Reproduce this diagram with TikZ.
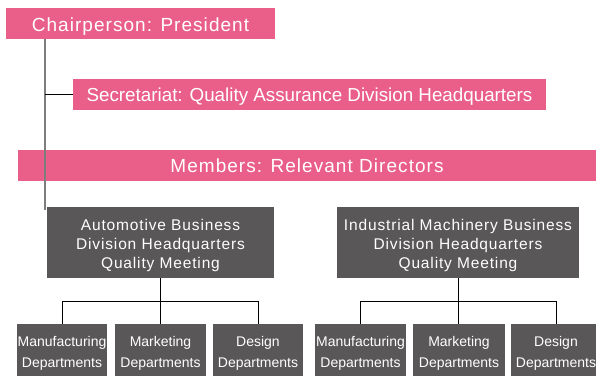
\documentclass[tikz,border=0pt]{standalone}
\usepackage{fontspec}
\setmainfont{Liberation Sans}
\newfontfamily\trackfont[LetterSpace=5.5]{Liberation Sans}
\definecolor{pinkc}{RGB}{233,95,137}
\definecolor{grayc}{RGB}{89,87,87}
\definecolor{trunkc}{RGB}{125,125,125}
\newcommand\toprule[1]{\rule{0pt}{#1}}
\begin{document}
\begin{tikzpicture}[x=1pt,y=-1pt,
  pinkbox/.style={fill=pinkc,text=white,inner sep=0pt,align=center,
    text height=13.5pt,text depth=0pt},
  graybox/.style={fill=grayc,text=white,inner sep=0pt,align=center},
  deptbox/.style={graybox,minimum width=90pt,minimum height=52pt,
    font=\fontsize{14}{21}\selectfont},
  meetbox/.style={graybox,minimum height=71pt,
    font=\trackfont\fontsize{15.5}{18.7}\selectfont},
  link/.style={draw=black,line width=1pt},
  trunk/.style={draw=trunkc,line width=1.6pt}]
\clip (0,0) rectangle (596,376);
\fill[white] (0,0) rectangle (596,376);
% top boxes
\node[pinkbox,minimum width=269pt,minimum height=31pt,text height=15.5pt,
  font=\trackfont\fontsize{19}{22}\selectfont] (chair) at (140.5,23.5) {Chairperson: President};
\node[pinkbox,minimum width=473pt,minimum height=31pt,
  font=\fontsize{18.8}{22}\selectfont] (secr) at (309.5,94.5) {Secretariat: Quality Assurance Division Headquarters};
\node[pinkbox,minimum width=578pt,minimum height=31pt,
  font=\trackfont\fontsize{19}{22}\selectfont] (memb) at (307,165.5) {Members: Relevant Directors};
% meetings
\node[meetbox,minimum width=227pt] (auto) at (160.5,242.5) {\toprule{17.4pt}Automotive Business\\Division Headquarters\\Quality Meeting};
\node[meetbox,minimum width=242pt] (indu) at (458,242.5) {\toprule{17.4pt}Industrial Machinery Business\\Division Headquarters\\Quality Meeting};
% departments
\node[deptbox] (lm) at (62,350) {\toprule{16.3pt}Manufacturing\\Departments};
\node[deptbox,minimum width=91pt] (lk) at (160.5,350) {\toprule{16.3pt}Marketing\\Departments};
\node[deptbox] (ld) at (258,350) {\toprule{16.3pt}Design\\Departments};
\node[deptbox,minimum width=91pt] (rm) at (360.5,350) {\toprule{16.3pt}Manufacturing\\Departments};
\node[deptbox,minimum width=92pt] (rk) at (459,350) {\toprule{16.3pt}Marketing\\Departments};
\node[deptbox] (rd) at (556,350) {\toprule{16.3pt}Design\\Departments};
% trunk
\coordinate (trunkend) at (45,210);
\draw[trunk] (chair.south -| trunkend) -- (trunkend);
\draw[link] (secr.west) -- (secr.west -| trunkend);
% left tree
\coordinate (lbus) at (160.5,301);
\draw[link] (auto.south) -- (lbus);
\draw[link] (lm.north) -- (lm.north |- lbus) -- (ld.north |- lbus) -- (ld.north);
\draw[link] (lk.north) -- (lbus);
% right tree
\coordinate (rbus) at (458,301);
\draw[link] (indu.south) -- (rbus);
\draw[link] (rm.north) -- (rm.north |- rbus) -- (rd.north |- rbus) -- (rd.north);
\draw[link] (rk.north -| rbus) -- (rbus);
\end{tikzpicture}
\end{document}
